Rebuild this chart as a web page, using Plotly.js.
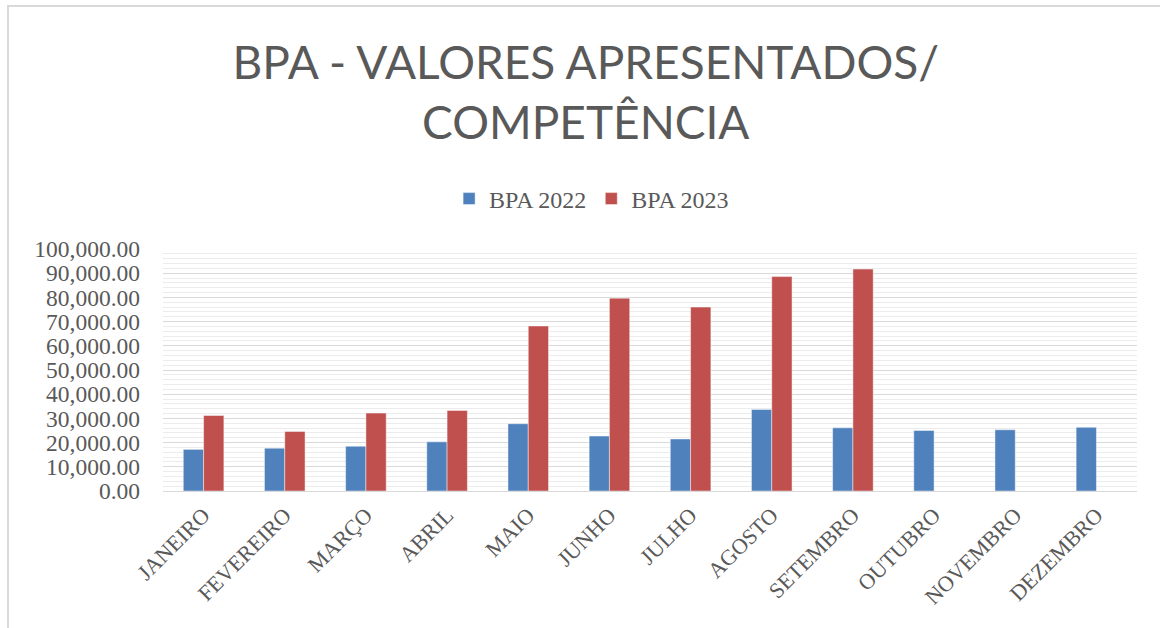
<!DOCTYPE html>
<html>
<head>
<meta charset="utf-8">
<script src="https://cdn.plot.ly/plotly-3.0.1.min.js"></script>
<style>
  html, body { margin: 0; padding: 0; background: #ffffff; }
  #wrap { position: relative; width: 1160px; height: 628px; overflow: hidden; }
  #chart { position: absolute; left: 0; top: 0; width: 1160px; height: 628px; }
  #frame { position: absolute; left: 7px; top: 5px; width: 1200px; height: 700px;
           border: 2px solid #d9d9d9; pointer-events: none; box-sizing: border-box; }
</style>
</head>
<body>
<div id="wrap">
  <div id="chart"></div>
  <div id="frame"></div>
</div>
<script>
const months = ["JANEIRO", "FEVEREIRO", "MARÇO", "ABRIL", "MAIO", "JUNHO",
                "JULHO", "AGOSTO", "SETEMBRO", "OUTUBRO", "NOVEMBRO", "DEZEMBRO"];
const bpa2022 = [17200, 17700, 18500, 20300, 27800, 22700, 21500, 33700, 26100, 25000, 25300, 26300];
const bpa2023 = [31200, 24600, 32200, 33300, 68200, 79700, 76000, 88600, 91700, null, null, null];
const seriesNames = ["BPA 2022", "BPA 2023"];
const titleText = "BPA - VALORES APRESENTADOS/<br>COMPETÊNCIA";

const textColor = "#595959";
const serif = "Liberation Serif, Times New Roman, serif";

const traces = [
  {
    type: "bar", name: seriesNames[0], x: months, y: bpa2022,
    marker: { color: "#4f81bd", line: { color: "rgba(255,255,255,0.45)", width: 1 } }
  },
  {
    type: "bar", name: seriesNames[1], x: months, y: bpa2023,
    marker: { color: "#c0504d", line: { color: "rgba(255,255,255,0.45)", width: 1 } }
  }
];

const layout = {
  width: 1160, height: 628,
  margin: { l: 163, r: 23, t: 249, b: 137, pad: 0 },
  paper_bgcolor: "rgba(0,0,0,0)",
  plot_bgcolor: "#ffffff",
  barmode: "group",
  bargap: 0.5,
  bargroupgap: 0,
  title: {
    text: titleText,
    font: { family: "Lato, Open Sans, sans-serif", size: 46, color: textColor },
    xref: "container", x: 0.505, xanchor: "center",
    yref: "container", y: 1 - 79 / 628, yanchor: "top"
  },
  showlegend: true,
  legend: {
    orientation: "h",
    xref: "container", x: 0.51, xanchor: "center",
    yref: "container", y: 1 - 199 / 628, yanchor: "middle",
    font: { family: serif, size: 24, color: textColor },
    traceorder: "normal",
    itemwidth: 30
  },
  xaxis: {
    type: "category",
    tickangle: -45,
    tickfont: { family: serif, size: 22, color: textColor },
    showgrid: false,
    showline: false,
    ticks: "",
    ticklabelstandoff: 6
  },
  yaxis: {
    range: [0, 100000],
    dtick: 10000,
    tick0: 0,
    tickformat: ",.2f",
    tickfont: { family: serif, size: 23.5, color: textColor },
    showgrid: true,
    gridcolor: "#d9d9d9",
    gridwidth: 1.3,
    zeroline: true,
    zerolinecolor: "#d9d9d9",
    zerolinewidth: 1.3,
    showline: false,
    ticks: "",
    ticklabelstandoff: 22,
    minor: { dtick: 2000, showgrid: true, gridcolor: "#ececec", gridwidth: 1.3 }
  }
};

Plotly.newPlot("chart", traces, layout, { displayModeBar: false, responsive: false });
</script>
</body>
</html>
